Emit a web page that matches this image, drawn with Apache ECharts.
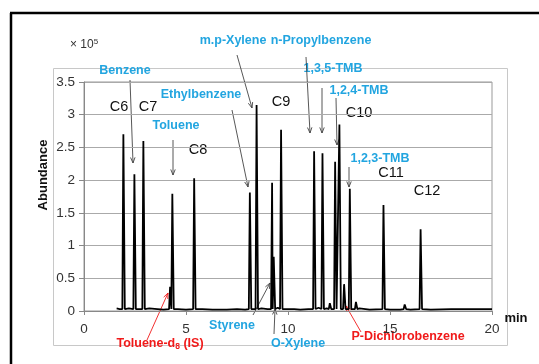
<!DOCTYPE html>
<html>
<head>
<meta charset="utf-8">
<script src="https://cdn.jsdelivr.net/npm/echarts@6/dist/echarts.min.js"></script>
<style>
  html, body { margin: 0; padding: 0; background: #fff; }
  #chart { width: 539px; height: 364px; }
</style>
</head>
<body>
<div id="chart"></div>
<script>
// peak retention times (min) and heights (x 10^5)
const peakTimes   = [1.93, 2.47, 2.91, 4.22, 4.33, 5.40, 8.13, 8.46, 9.22, 9.30, 9.66, 11.28, 11.69, 12.05, 12.31, 12.52, 12.75, 13.03, 13.33, 14.68, 15.72, 16.50];
const peakHeights = [2.70, 2.09, 2.60, 0.37, 1.79, 2.03, 1.81, 3.15, 1.96, 0.83, 2.77, 2.44, 2.41, 0.12, 2.28, 2.85, 0.41, 1.87, 0.14, 1.62, 0.10, 1.25];
// baseline noise between peaks
const baseTimes  = [1.60, 1.75, 2.20, 2.70, 3.20, 3.60, 3.90, 4.60, 5.00, 5.80, 6.30, 7.00, 7.50, 7.90, 8.70, 9.00, 9.50, 9.90, 10.30, 10.60, 11.00, 11.50, 11.90, 12.20, 13.50, 14.00, 15.00, 15.50, 16.00, 17.00, 18.00, 19.00, 20.00];
const baseValues = [0.04, 0.03, 0.04, 0.03, 0.04, 0.03, 0.02, 0.03, 0.02, 0.03, 0.02, 0.02, 0.03, 0.02, 0.04, 0.03, 0.05, 0.03, 0.03, 0.02, 0.03, 0.05, 0.04, 0.05, 0.04, 0.02, 0.02, 0.02, 0.02, 0.02, 0.03, 0.03, 0.03];

const xTicks = [0, 5, 10, 15, 20];
const yTicks = [0, 0.5, 1, 1.5, 2, 2.5, 3, 3.5];

// build the trace: baseline points plus a narrow peak at each retention time
const trace = [];
baseTimes.forEach((t, i) => trace.push([t, baseValues[i]]));
peakTimes.forEach((t, i) => {
  trace.push([t - 0.05, 0.03]);
  trace.push([t, peakHeights[i]]);
  trace.push([t + 0.07, 0.03]);
});
trace.sort((a, b) => a[0] - b[0]);

const CYAN = '#22a5e0';
const RED = '#f01a1a';
const FONT = '"Liberation Sans", Arial, sans-serif';

// annotation labels: [text, x, y, colour, size, bold]
const labels = [
  ['Benzene', 125, 71, CYAN, 12.5, true],
  ['C6', 119, 107, '#111', 14.5, false],
  ['C7', 148, 107, '#111', 14.5, false],
  ['Toluene', 176, 126, CYAN, 12.5, true],
  ['C8', 198, 150, '#111', 14.5, false],
  ['Ethylbenzene', 201, 95, CYAN, 12.5, true],
  ['m.p-Xylene', 233, 41, CYAN, 12.5, true],
  ['n-Propylbenzene', 321, 41, CYAN, 12.5, true],
  ['C9', 281, 102, '#111', 14.5, false],
  ['1,3,5-TMB', 333, 69, CYAN, 12.5, true],
  ['1,2,4-TMB', 359, 91, CYAN, 12.5, true],
  ['C10', 359, 113, '#111', 14.5, false],
  ['1,2,3-TMB', 380, 159, CYAN, 12.5, true],
  ['C11', 391, 173, '#111', 14.5, false],
  ['C12', 427, 191, '#111', 14.5, false],
  ['Styrene', 232, 326, CYAN, 12.5, true],
  ['O-Xylene', 298, 344, CYAN, 12.5, true],
  ['P-Dichlorobenzene', 408, 337, RED, 12.5, true],
  ['min', 516, 318, '#111', 13, true]
];

// arrows: [x1, y1, x2(tip), y2(tip), colour]
const arrows = [
  [130, 80, 133, 163, '#444'],
  [173, 140, 173, 175, '#444'],
  [232, 110, 248, 187, '#444'],
  [237, 55, 252, 108, '#444'],
  [306, 57, 310, 133, '#444'],
  [322, 88, 322, 133, '#444'],
  [336, 98, 337, 145, '#444'],
  [349, 167, 349, 187, '#444'],
  [147, 340, 168, 293, RED],
  [253, 315, 270, 283, '#444'],
  [274, 334, 275, 309, '#444'],
  [361, 332, 346, 306, RED]
];

const graphics = [
  { type: 'line', shape: { x1: 10, y1: 13, x2: 539, y2: 13 }, style: { stroke: '#000', lineWidth: 2.5 } },
  { type: 'line', shape: { x1: 11, y1: 13, x2: 11, y2: 364 }, style: { stroke: '#000', lineWidth: 2.5 } },
  { type: 'rect', shape: { x: 53.5, y: 68.5, width: 454, height: 277 }, style: { fill: 'none', stroke: '#c8c8c8', lineWidth: 1 } },
  {
    type: 'text', x: 70, y: 45,
    style: {
      text: '{a|× }{b|10}{c|5}', align: 'left', verticalAlign: 'middle',
      rich: {
        a: { fontFamily: FONT, fontSize: 12, fill: '#333' },
        b: { fontFamily: FONT, fontSize: 12, fill: '#333' },
        c: { fontFamily: FONT, fontSize: 8, fill: '#333', verticalAlign: 'top', padding: [0, 0, 7, 0] }
      }
    }
  },
  {
    type: 'text', x: 43, y: 175, rotation: Math.PI / 2,
    style: { text: 'Abundance', fontFamily: FONT, fontSize: 13, fontWeight: 'bold', fill: '#111', align: 'center', verticalAlign: 'middle' }
  },
  {
    type: 'text', x: 160, y: 344,
    style: {
      text: '{t|Toluene-d}{s|8}{t| (IS)}', align: 'center', verticalAlign: 'middle',
      rich: {
        t: { fontFamily: FONT, fontSize: 12.5, fontWeight: 'bold', fill: RED },
        s: { fontFamily: FONT, fontSize: 8.5, fontWeight: 'bold', fill: RED, padding: [6, 0, 0, 0] }
      }
    }
  }
];

labels.forEach(l => {
  graphics.push({
    type: 'text', x: l[1], y: l[2],
    style: { text: l[0], fontFamily: FONT, fontSize: l[4], fontWeight: l[5] ? 'bold' : 'normal', fill: l[3], align: 'center', verticalAlign: 'middle' }
  });
});

arrows.forEach(a => {
  const ang = Math.atan2(a[3] - a[1], a[2] - a[0]);
  const hl = 6, hw = 0.38;
  const p1 = [a[2] - hl * Math.cos(ang - hw), a[3] - hl * Math.sin(ang - hw)];
  const p2 = [a[2] - hl * Math.cos(ang + hw), a[3] - hl * Math.sin(ang + hw)];
  graphics.push({ type: 'line', shape: { x1: a[0], y1: a[1], x2: a[2], y2: a[3] }, style: { stroke: a[4], lineWidth: 0.9 } });
  graphics.push({ type: 'polyline', shape: { points: [p1, [a[2], a[3]], p2] }, style: { stroke: a[4], lineWidth: 0.9, fill: 'none' } });
});

const chart = echarts.init(document.getElementById('chart'));
chart.setOption({
  animation: false,
  backgroundColor: '#fff',
  grid: { left: 84, top: 82, right: 47, bottom: 53, show: true, borderColor: '#999', borderWidth: 1 },
  xAxis: {
    type: 'value', min: xTicks[0], max: xTicks[xTicks.length - 1], interval: 5,
    axisLine: { lineStyle: { color: '#888' } },
    axisTick: { show: true, length: 4, lineStyle: { color: '#888' } },
    axisLabel: { fontFamily: FONT, fontSize: 13.5, color: '#333', margin: 11 },
    splitLine: { show: false }
  },
  yAxis: {
    type: 'value', min: yTicks[0], max: yTicks[yTicks.length - 1], interval: 0.5,
    axisLine: { show: true, lineStyle: { color: '#888' } },
    axisTick: { show: true, length: 5, lineStyle: { color: '#888' } },
    axisLabel: { fontFamily: FONT, fontSize: 13.5, color: '#333', margin: 9 },
    splitLine: { lineStyle: { color: '#aaa', width: 1 } }
  },
  series: [{
    type: 'line',
    data: trace,
    showSymbol: false,
    lineStyle: { color: '#000', width: 1.8 },
    z: 5
  }],
  graphic: graphics
});
</script>
</body>
</html>
